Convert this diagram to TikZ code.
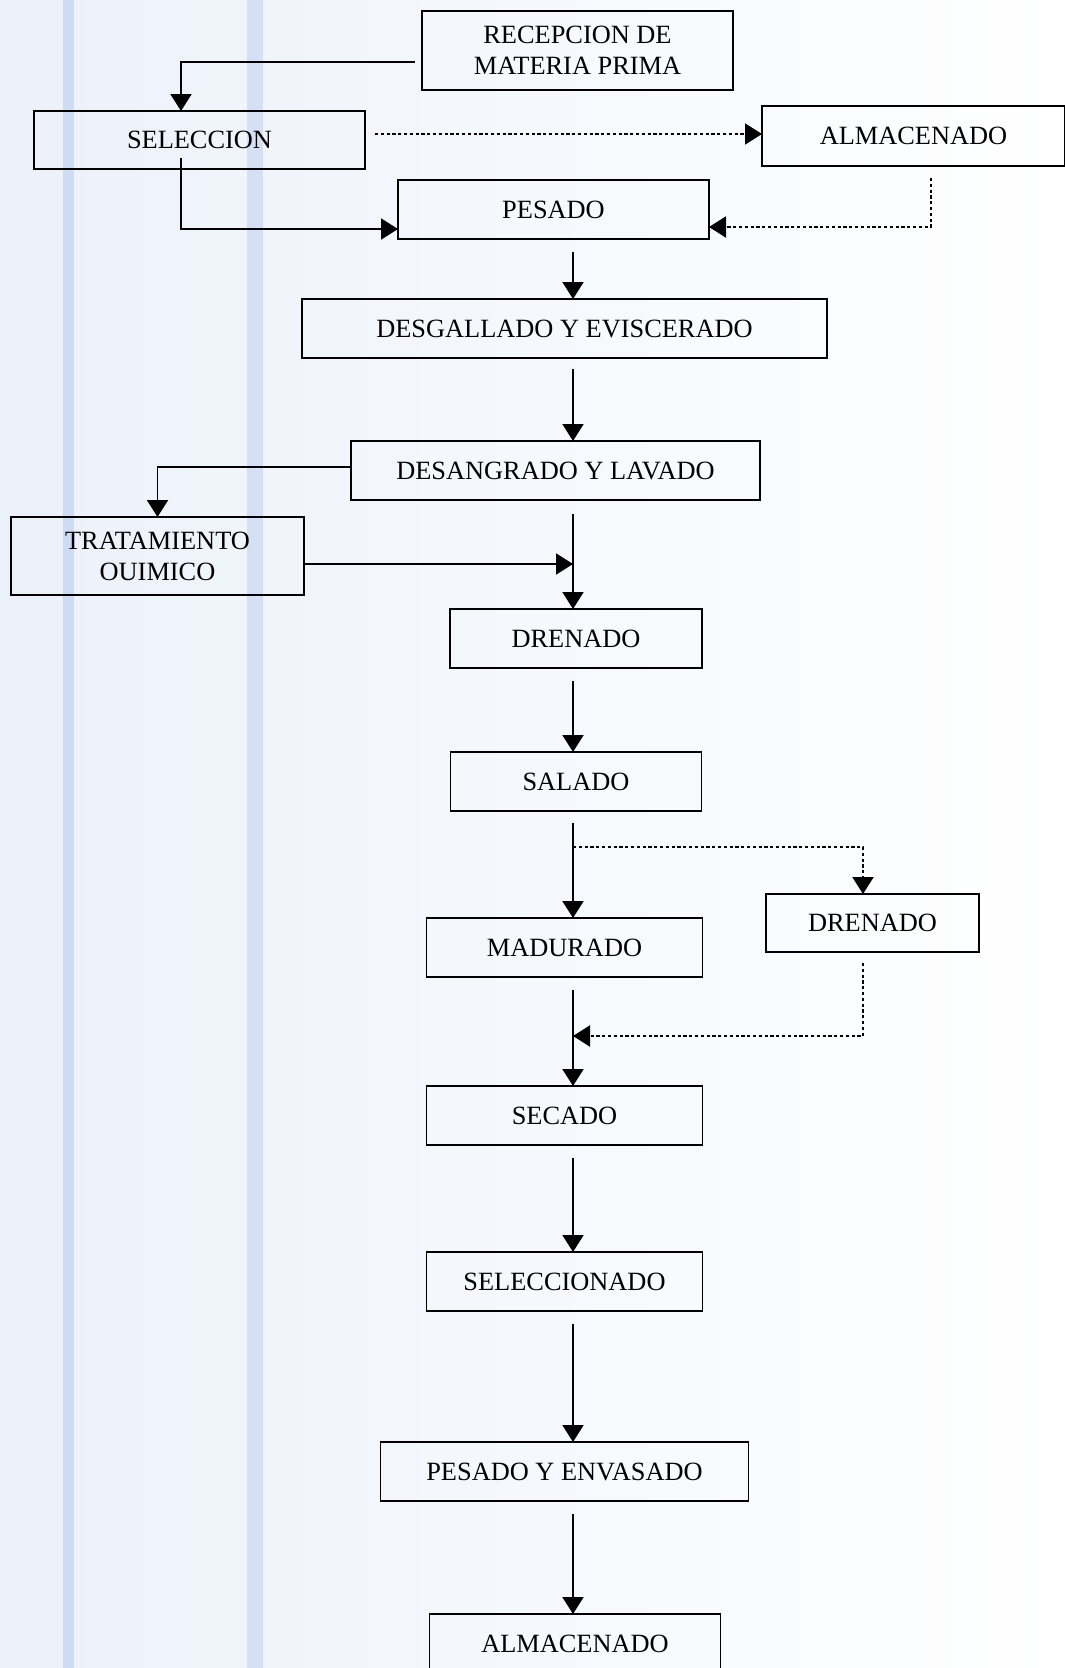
\documentclass[tikz,border=0pt]{standalone}
\usepackage{fontspec}
\setmainfont{Liberation Serif}
\usepackage{tikz}
\usetikzlibrary{arrows.meta, positioning, calc}

\definecolor{paper}{RGB}{236,241,250}
\definecolor{scanline}{RGB}{206,220,243}

\begin{document}
\begin{tikzpicture}[
    proc/.style={rectangle, draw=black, line width=1.1pt, outer sep=0pt, minimum height=1.18cm, align=center, inner sep=2pt, font=\fontsize{15}{17.6}\selectfont},
    arrow/.style={-{Triangle[length=0.34cm, width=0.42cm]}, line width=1.1pt},
    dotarrow/.style={arrow, dash pattern=on 1.8pt off 1.5pt}
]

% Page and background
\useasboundingbox (0,0) rectangle (21.3,-33.36);
\clip (0,0) rectangle (21.3,-33.36);
\shade[left color=paper, right color=white] (0,0) rectangle (21.3,-33.36);
\fill[scanline] (1.26,0) rectangle (1.48,-33.36);
\fill[scanline, opacity=0.8] (4.94,0) rectangle (5.26,-33.36);

% Main column
\node[proc, minimum width=6.22cm, minimum height=1.58cm] (recep) at (11.55,-1.01) {RECEPCION DE\\MATERIA PRIMA};
\node[proc, minimum width=6.22cm] (pesado) at (11.07,-4.19) {PESADO};
\node[proc, minimum width=10.5cm, below=1.2cm of pesado, xshift=0.22cm] (desgal) {DESGALLADO Y EVISCERADO};
\node[proc, minimum width=8.18cm, below=1.66cm of desgal, xshift=-0.18cm] (desang) {DESANGRADO Y LAVADO};
\node[proc, minimum width=5.04cm, below=2.18cm of desang, xshift=0.41cm] (dren) {DRENADO};
\node[proc, minimum width=5.02cm, below=1.68cm of dren] (salado) {SALADO};
\node[proc, minimum width=5.52cm, below=2.14cm of salado, xshift=-0.23cm] (madur) {MADURADO};
\node[proc, minimum width=5.52cm, below=2.18cm of madur] (secado) {SECADO};
\node[proc, minimum width=5.52cm, below=2.14cm of secado] (selecdo) {SELECCIONADO};
\node[proc, minimum width=7.36cm, below=2.62cm of selecdo] (envas) {PESADO Y ENVASADO};
\node[proc, minimum width=5.82cm, minimum height=1.2cm, below=2.26cm of envas, xshift=0.21cm] (almfin) {ALMACENADO};

% Side boxes
\node[proc, minimum width=6.62cm, minimum height=1.16cm] (selec) at (3.99,-2.80) {SELECCION};
\node[proc, minimum width=6.06cm, minimum height=1.2cm] (almac) at (18.27,-2.72) {ALMACENADO};
\node[proc, minimum width=5.86cm, minimum height=1.56cm] (trat) at (3.15,-11.12) {TRATAMIENTO\\OUIMICO};
\node[proc, minimum width=4.26cm, minimum height=1.16cm] (dren2) at (17.45,-18.46) {DRENADO};

% Helper points on the trunk line
\coordinate (spine) at (11.46,0);
\coordinate (fork) at ([yshift=-0.72cm]salado.south -| spine);
\coordinate (join) at ([yshift=-1.18cm]madur.south -| spine);

% Top part
\draw[arrow, shorten <=0.14cm] ([yshift=-0.23cm]recep.west) -| ([xshift=-0.37cm]selec.north);
\draw[dotarrow, shorten <=0.2cm] ([yshift=0.12cm]selec.east) -- ([yshift=0.12cm]selec.east -| almac.west);
\draw[arrow] ([xshift=-0.37cm, yshift=0.22cm]selec.south) |- ([yshift=-0.39cm]pesado.west);
\draw[dotarrow, shorten <=0.24cm] ([xshift=0.35cm]almac.south) |- ([yshift=-0.35cm]pesado.east);

% Trunk
\draw[arrow, shorten <=0.26cm] (pesado.south -| spine) -- (desgal.north -| spine);
\draw[arrow, shorten <=0.22cm] (desgal.south -| spine) -- (desang.north -| spine);
\draw[arrow] ([yshift=0.07cm]desang.west) -| (trat.north);
\draw[arrow, shorten <=0.28cm] (desang.south -| spine) -- (dren.north -| spine);
\draw[arrow] ([yshift=-0.16cm]trat.east) -- ([yshift=-0.16cm]trat.east -| spine);
\draw[arrow, shorten <=0.26cm] (dren.south -| spine) -- (salado.north -| spine);
\draw[arrow, shorten <=0.24cm] (salado.south -| spine) -- (madur.north -| spine);
\draw[dotarrow] (fork) -| ([xshift=-0.19cm]dren2.north);
\draw[arrow, shorten <=0.26cm] (madur.south -| spine) -- (secado.north -| spine);
\draw[dotarrow, shorten <=0.22cm] ([xshift=-0.19cm]dren2.south) |- (join);
\draw[arrow, shorten <=0.26cm] (secado.south -| spine) -- (selecdo.north -| spine);
\draw[arrow, shorten <=0.26cm] (selecdo.south -| spine) -- (envas.north -| spine);
\draw[arrow, shorten <=0.26cm] (envas.south -| spine) -- (almfin.north -| spine);

\end{tikzpicture}
\end{document}
